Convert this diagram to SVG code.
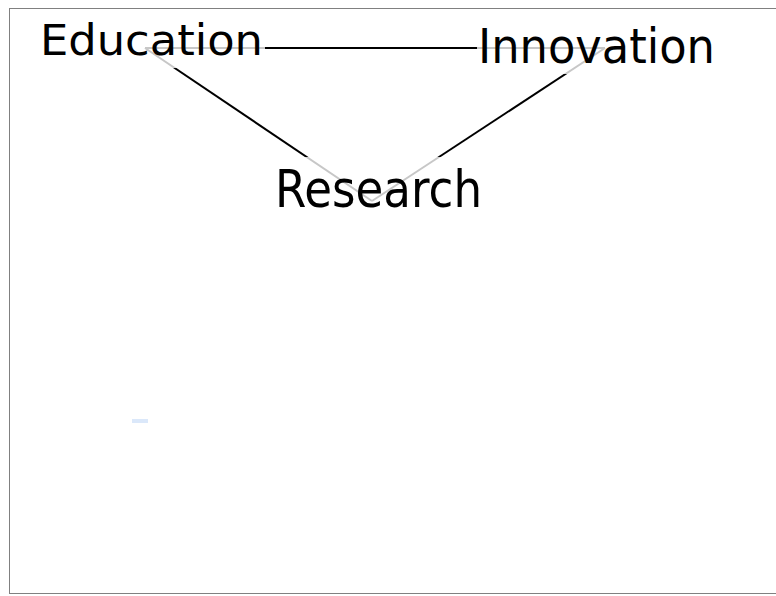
<svg xmlns="http://www.w3.org/2000/svg" width="776" height="596" viewBox="0 0 776 596">
<style>
.lbl{font-family:"DejaVu Sans",sans-serif;fill:#000}
.halo{fill:#fff;fill-opacity:0.78}
.edge{stroke:#000;stroke-width:2;fill:none}
</style>
<rect x="0" y="0" width="776" height="596" fill="#fff"/>
<rect x="9.5" y="8.5" width="790" height="585" fill="none" stroke="#000" stroke-width="1" stroke-dasharray="1 1"/>
<rect x="132" y="419" width="16" height="4" fill="#dbe8fa"/>
<g id="connectors">
<line class="edge" x1="145" y1="48" x2="605" y2="48"/>
<line class="edge" x1="145" y1="48" x2="372" y2="201"/>
<line class="edge" x1="605" y1="48" x2="372" y2="201"/>
</g>
<g id="node-education">
<rect class="halo" x="36" y="15" width="229" height="53"/>
<text class="lbl" x="40" y="55" font-size="43" textLength="223" lengthAdjust="spacingAndGlyphs">Education</text>
</g>
<g id="node-innovation">
<rect class="halo" x="477" y="19" width="240" height="55"/>
<text class="lbl" x="478" y="62.5" font-size="48" textLength="237" lengthAdjust="spacingAndGlyphs">Innovation</text>
</g>
<g id="node-research">
<rect class="halo" x="271" y="157" width="214" height="53"/>
<text class="lbl" x="275" y="206.5" font-size="52" textLength="207" lengthAdjust="spacingAndGlyphs">Research</text>
</g>
</svg>
